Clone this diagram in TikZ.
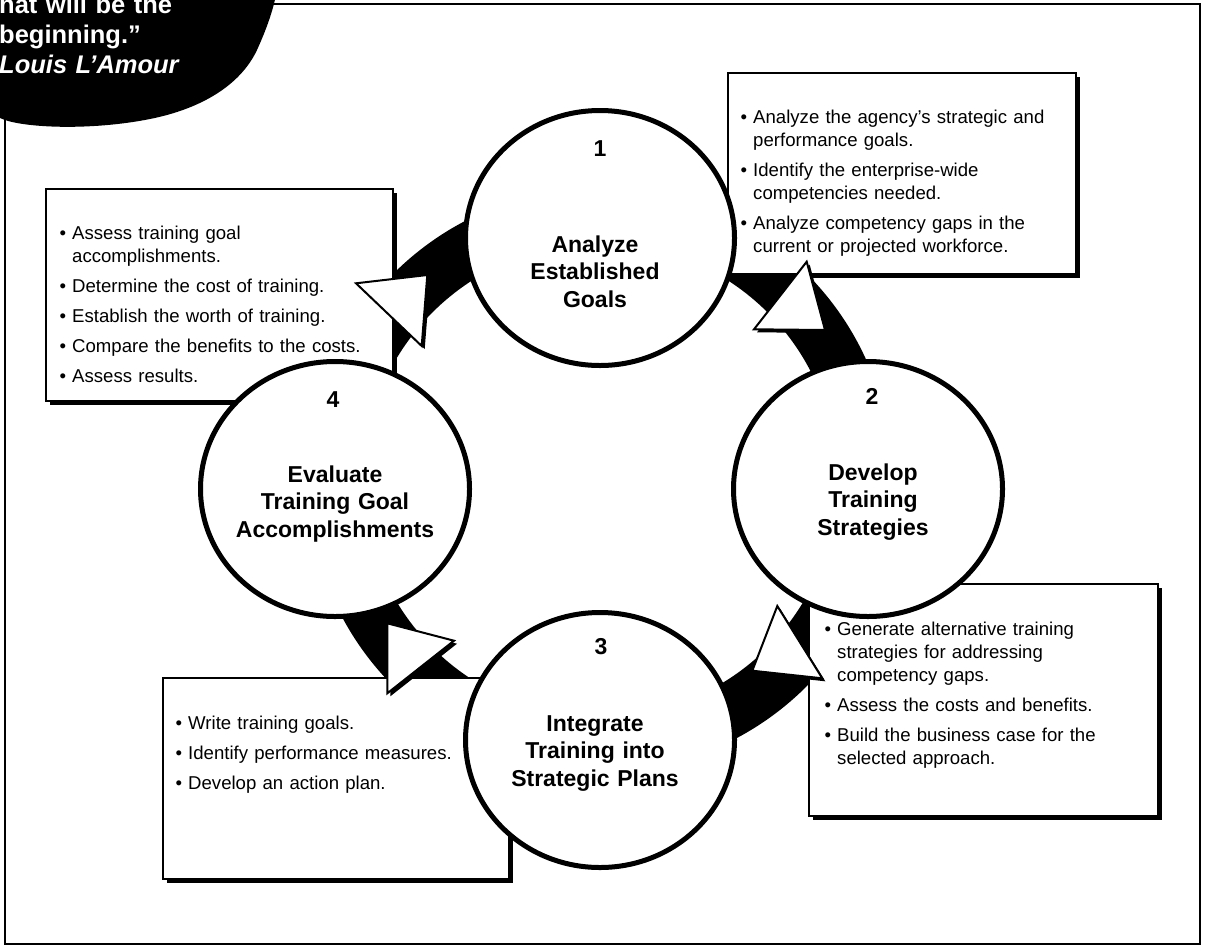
\documentclass[tikz,border=0pt]{standalone}
\usepackage{fontspec}
\setmainfont{Liberation Sans}
\usetikzlibrary{shapes.geometric,shadows}
\newcommand{\bul}{\leavevmode\llap{\textbullet\hspace{6pt}}}
\begin{document}
\begin{tikzpicture}[x=1pt,y=-1pt,
  stage/.style={ellipse,draw,line width=5pt,fill=white,minimum width=269pt,minimum height=255pt,inner sep=0pt},
  note/.style={draw,line width=1.5pt,fill=white,anchor=north west,inner sep=0pt,
    drop shadow={shadow xshift=4pt,shadow yshift=-4pt,fill=black,opacity=1}},
  notetext/.style={anchor=base west,text width=330pt,align=left,inner sep=0pt,font=\fontsize{18.6}{23}\selectfont},
  title/.style={anchor=base,text width=260pt,align=center,inner sep=0pt,font=\bfseries\fontsize{23}{27.5}\selectfont},
  num/.style={anchor=base,inner sep=0pt,font=\bfseries\fontsize{23}{27.5}\selectfont},
  head/.style={draw,line width=2pt,fill=white,line join=miter},
  headshadow/.style={fill=black,shift={(3,3)}}]
\useasboundingbox (0,0) rectangle (1206,948);
\clip (0,0) rectangle (1206,948);
% black ring under everything
\fill[even odd rule] (600,480) circle[radius=292] (600,480) circle[radius=237];
% text boxes
\node[note,minimum width=348pt,minimum height=201pt] (box1) at (727,72) {};
\node[note,minimum width=349pt,minimum height=232pt] (box2) at (808,583) {};
\node[note,minimum width=346pt,minimum height=201pt] (box3) at (162,677) {};
\node[note,minimum width=347pt,minimum height=212pt] (box4) at (45,188) {};
% arrow heads
\fill[headshadow] (806.7,261.7) -- (754,329.3) -- (825,330) -- cycle;
\draw[head] (806.7,261.7) -- (754,329.3) -- (825,330) -- cycle;
\fill[headshadow] (777.3,606) -- (752.3,670.7) -- (822.3,678.3) -- cycle;
\draw[head] (777.3,606) -- (752.3,670.7) -- (822.3,678.3) -- cycle;
\fill[headshadow] (387.3,623.3) -- (454,640.7) -- (387.3,693.3) -- cycle;
\draw[head] (387.3,623.3) -- (454,640.7) -- (387.3,693.3) -- cycle;
\fill[headshadow] (356,283.3) -- (427.3,275) -- (421.7,346) -- cycle;
\draw[head] (356,283.3) -- (427.3,275) -- (421.7,346) -- cycle;
% the four stages
\node[stage] (c1) at (600,238) {};
\node[stage] (c2) at (868,489) {};
\node[stage] (c3) at (600,740) {};
\node[stage] (c4) at (335,489) {};
\node[num] (n1) at (600,156) {1};
\node[title] (t1) at (595,252) {Analyze\\Established\\Goals};
\node[num] (n2) at (872,404) {2};
\node[title] (t2) at (873,480) {Develop\\Training\\Strategies};
\node[num] (n3) at (601,654) {3};
\node[title] (t3) at (595,731) {Integrate\\Training into\\Strategic Plans};
\node[num] (n4) at (333,407) {4};
\node[title] (t4) at (335,482) {Evaluate\\Training Goal\\Accomplishments};
% box texts
\node[notetext] (l1) at (753,123) {\bul Analyze the agency’s strategic and\\
  performance goals.\\[7pt]
  \bul Identify the enterprise-wide\\
  competencies needed.\\[7pt]
  \bul Analyze competency gaps in the\\
  current or projected workforce.};
\node[notetext] (l2) at (837,635) {\bul Generate alternative training\\
  strategies for addressing\\
  competency gaps.\\[7pt]
  \bul Assess the costs and benefits.\\[7pt]
  \bul Build the business case for the\\
  selected approach.};
\node[notetext] (l3) at (188,729) {\bul Write training goals.\\[7pt]
  \bul Identify performance measures.\\[7pt]
  \bul Develop an action plan.};
\node[notetext] (l4) at (72,239) {\bul Assess training goal\\
  accomplishments.\\[7pt]
  \bul Determine the cost of training.\\[7pt]
  \bul Establish the worth of training.\\[7pt]
  \bul Compare the benefits to the costs.\\[7pt]
  \bul Assess results.};
% frame and quote
\draw[line width=2.5pt] (5,4) rectangle (1200,944);
\fill (-5,116) -- (0,118) .. controls (20,128) and (90,131) .. (150,119)
  .. controls (200,109) and (240,86) .. (257,50)
  .. controls (267,28) and (273,10) .. (276,-5) -- (-5,-5) -- cycle;
\node[anchor=base west,text width=300pt,align=left,inner sep=0pt,text=white,
  font=\bfseries\fontsize{25.5}{30}\selectfont] (quote) at (-1,13)
  {hat will be the\\ beginning.”\\ \itshape Louis L’Amour};
\end{tikzpicture}
\end{document}
